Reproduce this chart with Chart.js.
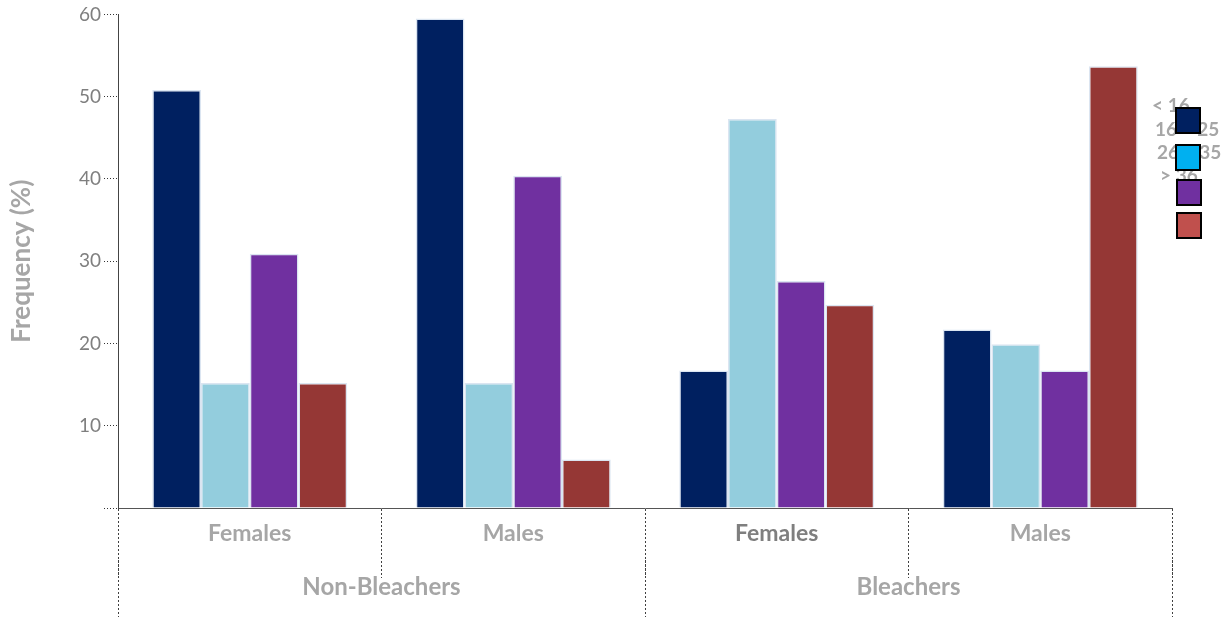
<!DOCTYPE html>
<html>
<head>
<meta charset="utf-8">
<script src="https://cdn.jsdelivr.net/npm/chart.js@4/dist/chart.umd.min.js"></script>
<style>
  html, body { margin: 0; padding: 0; background: #ffffff; }
  #wrap { width: 1224px; height: 617px; }
</style>
</head>
<body>
<div id="wrap"><canvas id="c" width="1224" height="617"></canvas></div>
<script>
// ---- data ----
const categories = ['Females', 'Males', 'Females', 'Males'];
const groupLabels = ['Non-Bleachers', 'Bleachers'];
const seriesLabels = ['< 16', '16 – 25', '26 – 35', '> 36'];
const under16 = [50.8, 59.5, 16.7, 21.7];
const age16to25 = [15.2, 15.2, 47.3, 19.9];
const age26to35 = [30.9, 40.4, 27.6, 16.7];
const over36 = [15.2, 5.9, 24.7, 53.7];
const yTicks = [0, 10, 20, 30, 40, 50, 60];

// ---- styles ----
const barColors = ['#002060', '#93cddd', '#7030a0', '#953735'];
const legendColors = ['#002060', '#00b0f0', '#7030a0', '#c0504d'];
const FONT = "Lato, 'Liberation Sans', sans-serif";

const seriesValues = [under16, age16to25, age26to35, over36];

const legendPlugin = {
  id: 'overlapLegend',
  afterDraw(chart) {
    const ctx = chart.ctx;
    const textPos = [[1152, 106], [1155, 130], [1157, 153], [1160, 176]];
    const boxPos = [[1176, 108], [1176, 145], [1177, 180], [1177, 213]];
    ctx.save();
    ctx.font = "bold 19px " + FONT;
    ctx.fillStyle = '#a6a6a6';
    ctx.textBaseline = 'middle';
    ctx.textAlign = 'left';
    chart.data.datasets.forEach((ds, i) => {
      ctx.fillText(ds.label, textPos[i][0], textPos[i][1]);
    });
    chart.data.datasets.forEach((ds, i) => {
      ctx.fillStyle = legendColors[i];
      ctx.fillRect(boxPos[i][0], boxPos[i][1], 24, 25);
      ctx.lineWidth = 2;
      ctx.strokeStyle = '#000000';
      ctx.strokeRect(boxPos[i][0], boxPos[i][1], 24, 25);
    });
    ctx.restore();
  }
};

new Chart(document.getElementById('c'), {
  type: 'bar',
  data: {
    labels: categories,
    datasets: seriesLabels.map((lab, i) => ({
      label: lab,
      data: seriesValues[i],
      backgroundColor: barColors[i],
      borderColor: '#dbe5f1',
      borderWidth: 1.5,
      barPercentage: 1.0,
      categoryPercentage: 0.74
    }))
  },
  options: {
    responsive: false,
    animation: false,
    layout: { padding: { left: 0, right: 52, top: 0, bottom: 0 } },
    plugins: {
      legend: { display: false },
      tooltip: { enabled: false }
    },
    scales: {
      x: {
        type: 'category',
        position: 'bottom',
        weight: 0,
        offset: true,
        grid: {
          offset: true,
          drawOnChartArea: false,
          drawTicks: true,
          tickLength: 70,
          tickColor: '#404040',
          tickWidth: 1,
          tickBorderDash: [2, 2]
        },
        border: { display: true, color: '#555555', width: 1, dash: [3, 2] },
        ticks: {
          padding: -58,
          maxRotation: 0,
          font: { family: FONT, size: 23, weight: 'bold' },
          color: (c) => c.index === 2 ? '#7f7f7f' : '#a6a6a6'
        },
        afterFit(scale) { scale.height = 52; }
      },
      x2: {
        type: 'category',
        position: 'bottom',
        weight: 1,
        labels: groupLabels,
        offset: true,
        grid: {
          offset: true,
          drawOnChartArea: false,
          drawTicks: true,
          tickLength: 57,
          tickColor: '#404040',
          tickWidth: 1,
          tickBorderDash: [2, 2]
        },
        border: { display: false },
        ticks: {
          padding: -44,
          maxRotation: 0,
          font: { family: FONT, size: 24, weight: 'bold' },
          color: '#a6a6a6'
        },
        afterFit(scale) { scale.height = 57; }
      },
      y: {
        type: 'linear',
        min: 0,
        max: 60,
        afterBuildTicks(scale) { scale.ticks = yTicks.map(v => ({ value: v })); },
        grid: {
          drawOnChartArea: false,
          drawTicks: true,
          tickLength: 14,
          tickColor: '#333333',
          tickWidth: 1,
          tickBorderDash: [1, 2]
        },
        border: { display: true, color: '#444444', width: 1, dash: [2, 2] },
        ticks: {
          padding: 3,
          font: { family: FONT, size: 19 },
          color: '#7f7f7f',
          callback: (v) => v === 0 ? '' : String(v)
        },
        title: {
          display: true,
          text: 'Frequency (%)',
          font: { family: FONT, size: 26, weight: 'bold' },
          color: '#a6a6a6',
          padding: { top: 6, bottom: 0 }
        },
        afterFit(scale) { scale.width = 118; }
      }
    }
  },
  plugins: [legendPlugin]
});
</script>
</body>
</html>
